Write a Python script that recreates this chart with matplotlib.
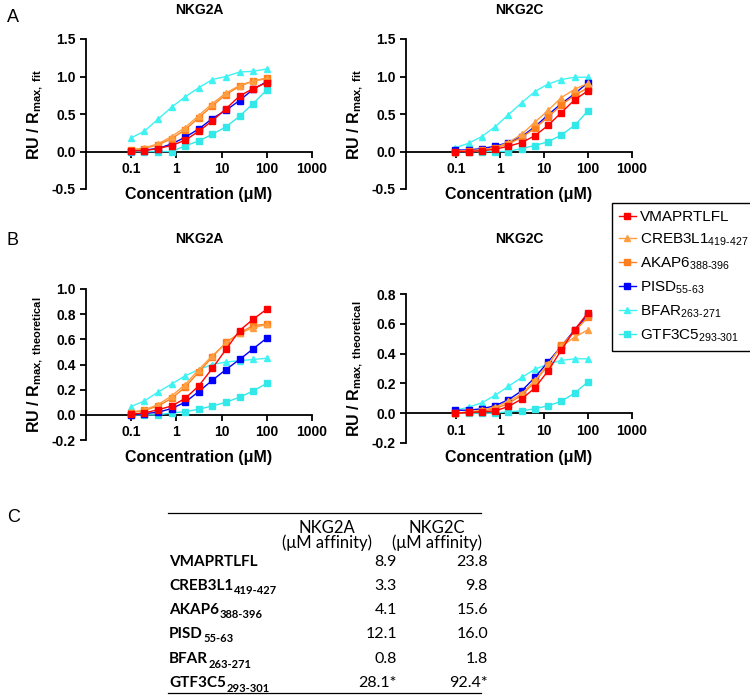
import numpy as np
import matplotlib.pyplot as plt
from matplotlib.lines import Line2D

plt.rcParams['font.family'] = ['Liberation Sans', 'DejaVu Sans']
plt.rcParams['mathtext.fontset'] = 'custom'
plt.rcParams['mathtext.rm'] = 'Liberation Sans'
plt.rcParams['mathtext.bf'] = 'Liberation Sans:bold'
plt.rcParams['mathtext.it'] = 'Liberation Sans:italic'
plt.rcParams['axes.unicode_minus'] = False

# concentrations (uM), 2-fold dilution series
conc = [0.098, 0.195, 0.39, 0.78, 1.56, 3.125, 6.25, 12.5, 25, 50, 100]

peptides = ['VMAPRTLFL', 'CREB3L1', 'AKAP6', 'PISD', 'BFAR', 'GTF3C5']
residues = ['', '419-427', '388-396', '55-63', '263-271', '293-301']
colors = ['#FF0000', '#FF9E40', '#FF7F1E', '#0000FF', '#40F2F2', '#33E8E8']
markers = ['s', '^', 's', 's', '^', 's']

# A: RU / Rmax,fit
fit_nkg2a = [
    [0.01, 0.01, 0.04, 0.08, 0.15, 0.27, 0.41, 0.57, 0.74, 0.84, 0.92],
    [0.02, 0.05, 0.10, 0.20, 0.32, 0.48, 0.64, 0.78, 0.88, 0.94, 0.97],
    [0.02, 0.04, 0.09, 0.17, 0.29, 0.45, 0.61, 0.76, 0.87, 0.94, 0.98],
    [0.01, 0.02, 0.04, 0.10, 0.19, 0.30, 0.44, 0.55, 0.68, 0.83, 0.93],
    [0.18, 0.27, 0.43, 0.59, 0.73, 0.85, 0.96, 1.00, 1.06, 1.07, 1.10],
    [0.00, 0.00, 0.00, 0.00, 0.075, 0.14, 0.23, 0.33, 0.47, 0.64, 0.82],
]
fit_nkg2c = [
    [0.00, 0.00, 0.01, 0.03, 0.07, 0.12, 0.21, 0.35, 0.52, 0.69, 0.81],
    [0.00, 0.01, 0.02, 0.05, 0.12, 0.23, 0.39, 0.55, 0.72, 0.83, 0.91],
    [0.00, 0.01, 0.02, 0.05, 0.10, 0.19, 0.31, 0.46, 0.62, 0.75, 0.85],
    [0.02, 0.02, 0.04, 0.07, 0.12, 0.20, 0.33, 0.49, 0.64, 0.77, 0.92],
    [0.05, 0.11, 0.20, 0.33, 0.49, 0.65, 0.80, 0.90, 0.96, 0.99, 0.99],
    [0.00, 0.00, 0.00, 0.00, 0.00, 0.04, 0.08, 0.13, 0.22, 0.35, 0.54],
]
# B: RU / Rmax,theoretical
theo_nkg2a = [
    [0.005, 0.015, 0.04, 0.07, 0.13, 0.23, 0.37, 0.52, 0.67, 0.76, 0.84],
    [0.02, 0.04, 0.08, 0.15, 0.24, 0.36, 0.47, 0.57, 0.65, 0.69, 0.72],
    [0.015, 0.035, 0.07, 0.13, 0.22, 0.34, 0.46, 0.575, 0.65, 0.71, 0.72],
    [0.00, 0.01, 0.02, 0.05, 0.10, 0.185, 0.275, 0.36, 0.44, 0.525, 0.61],
    [0.065, 0.11, 0.18, 0.245, 0.31, 0.36, 0.40, 0.42, 0.43, 0.44, 0.45],
    [0.00, 0.00, 0.00, 0.015, 0.025, 0.045, 0.07, 0.10, 0.14, 0.19, 0.25],
]
theo_nkg2c = [
    [0.00, 0.005, 0.01, 0.015, 0.045, 0.095, 0.17, 0.285, 0.425, 0.56, 0.675],
    [0.00, 0.01, 0.02, 0.04, 0.08, 0.13, 0.22, 0.33, 0.45, 0.51, 0.56],
    [0.00, 0.005, 0.015, 0.03, 0.065, 0.12, 0.21, 0.325, 0.455, 0.55, 0.645],
    [0.02, 0.02, 0.03, 0.05, 0.09, 0.15, 0.24, 0.345, 0.45, 0.56, 0.66],
    [0.02, 0.04, 0.07, 0.12, 0.18, 0.24, 0.295, 0.33, 0.355, 0.365, 0.365],
    [0.00, 0.00, 0.00, 0.00, 0.01, 0.015, 0.03, 0.05, 0.08, 0.135, 0.21],
]

# C: affinities
kd_nkg2a = ['8.9', '3.3', '4.1', '12.1', '0.8', '28.1*']
kd_nkg2c = ['23.8', '9.8', '15.6', '16.0', '1.8', '92.4*']

W, H = 750, 699
fig = plt.figure(figsize=(7.5, 6.99), dpi=100)


def box(x0, y0, x1, y1):
    return [x0 / W, 1 - y1 / H, (x1 - x0) / W, (y1 - y0) / H]


def draw(ax, data, xlow, ylim, yticks, sub, title, title_y, xlab_y):
    n = len(data)
    for i in range(n - 1, -1, -1):
        ax.plot(conc, data[i], color=colors[i], marker=markers[i], ms=4.8,
                lw=1.0, clip_on=False, zorder=3 + n - i)
    ax.set_xscale('log')
    ax.set_xlim(xlow, 1000)
    ax.set_ylim(*ylim)
    for s in ['top', 'right']:
        ax.spines[s].set_visible(False)
    ax.spines['bottom'].set_position(('data', 0))
    for s in ['bottom', 'left']:
        ax.spines[s].set_linewidth(1.3)
    ax.set_xticks([0.1, 1, 10, 100, 1000])
    ax.set_xticklabels(['0.1', '1', '10', '100', '1000'])
    ax.xaxis.set_minor_locator(plt.NullLocator())
    ax.set_yticks(yticks)
    ax.set_yticklabels([f'{v:.1f}' for v in yticks])
    ax.tick_params(width=1.3, length=4, labelsize=10)
    for lab in ax.get_xticklabels() + ax.get_yticklabels():
        lab.set_fontweight('bold')
    ax.set_ylabel('RU / R' + r'$_{\mathbf{' + sub + '}}$', fontsize=11.5,
                  fontweight='bold')
    ax.yaxis.set_label_coords(-0.18, 0.5)
    ax.set_xlabel('Concentration (μM)', fontsize=11.5, fontweight='bold',
                  va='center')
    ax.xaxis.set_label_coords(0.5, xlab_y)
    ax.set_title(title, fontsize=10, fontweight='bold', pad=0, y=title_y)


ax1 = fig.add_axes(box(86, 39, 312, 189))
draw(ax1, fit_nkg2a, 0.01, (-0.5, 1.5), [-0.5, 0.0, 0.5, 1.0, 1.5],
     r'max,\ fit', 'NKG2A', 1 + (39 - 14) / 150, -0.04)
ax2 = fig.add_axes(box(406, 39, 632, 189))
draw(ax2, fit_nkg2c, 0.0074, (-0.5, 1.5), [-0.5, 0.0, 0.5, 1.0, 1.5],
     r'max,\ fit', 'NKG2C', 1 + (39 - 14) / 150, -0.04)
ax3 = fig.add_axes(box(86, 289, 312, 440))
draw(ax3, theo_nkg2a, 0.01, (-0.2, 1.0), [-0.2, 0.0, 0.2, 0.4, 0.6, 0.8, 1.0],
     r'max,\ theoretical', 'NKG2A', 1 + (289 - 243) / 151, -0.113)
ax4 = fig.add_axes(box(406, 294, 632, 443))
draw(ax4, theo_nkg2c, 0.0074, (-0.2, 0.8), [-0.2, 0.0, 0.2, 0.4, 0.6, 0.8],
     r'max,\ theoretical', 'NKG2C', 1 + (294 - 243) / 149, -0.094)

# legend
handles = [Line2D([], [], color=colors[i], marker=markers[i], ms=4, lw=1.0)
           for i in range(len(peptides))]
labels = [p + (r'$_{\mathrm{' + r.replace('-', r'\text{-}') + '}}$' if r else '')
          for p, r in zip(peptides, residues)]
leg = fig.legend(handles, labels, loc='upper left',
                 bbox_to_anchor=(612 / W, 1 - 203 / H), fontsize=11,
                 frameon=True, fancybox=False, framealpha=1, edgecolor='black',
                 handlelength=1.1, handletextpad=0.3, labelspacing=0.5,
                 borderpad=0.45, borderaxespad=0)
leg.get_frame().set_linewidth(1.0)

# panel letters
fig.text(7 / W, 1 - 18 / H, 'A', fontsize=13, va='center')
fig.text(7 / W, 1 - 240 / H, 'B', fontsize=13, va='center')
fig.text(7 / W, 1 - 517 / H, 'C', fontsize=13, va='center')

# table
tfont = ['Lato', 'DejaVu Sans']
fig.add_artist(Line2D([168 / W, 481 / W], [1 - 513 / H, 1 - 513 / H],
                      color='black', lw=0.9))
fig.add_artist(Line2D([168 / W, 481 / W], [1 - 693 / H, 1 - 693 / H],
                      color='black', lw=0.9))
for cx, name in [(327, 'NKG2A'), (437, 'NKG2C')]:
    fig.text(cx / W, 1 - 528 / H, name, family=tfont, fontsize=12,
             ha='center', va='center')
    fig.text(cx / W, 1 - 543 / H, '(μM affinity)', family=tfont,
             fontsize=12, ha='center', va='center')

renderer = fig.canvas.get_renderer()
row_y = [562, 586, 610, 634, 659, 683]
for i, y in enumerate(row_y):
    t = fig.text(169 / W, 1 - y / H, peptides[i], family=tfont, fontsize=11,
                 fontweight='bold', va='center')
    if residues[i]:
        bb = t.get_window_extent(renderer)
        fig.text(bb.x1 / W + 0.5 / W, 1 - (y + 5) / H, residues[i],
                 family=tfont, fontsize=8, fontweight='bold', va='center')
    fig.text(397 / W, 1 - y / H, kd_nkg2a[i], family=tfont, fontsize=11.5,
             ha='right', va='center')
    fig.text(488 / W, 1 - y / H, kd_nkg2c[i], family=tfont, fontsize=11.5,
             ha='right', va='center')

fig.savefig('out.png', dpi=100)
